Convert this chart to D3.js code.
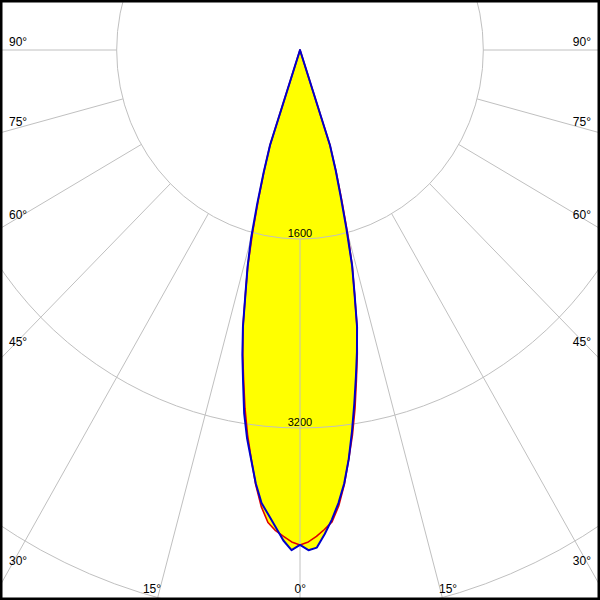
<!DOCTYPE html>
<html>
<head>
<meta charset="utf-8">
<script src="https://cdn.jsdelivr.net/npm/d3@7"></script>
<style>
  html, body { margin: 0; padding: 0; background: #fff; }
  svg { display: block; }
  text { font-family: "Liberation Sans", Arial, sans-serif; fill: #000; }
</style>
</head>
<body>
<div id="chart"></div>
<script>
// ---- data ----
const gammas   = [0,1,2,3,4,5,6,7,8,9,10,11,12,13,14,15,16,17,18,19,20,30,40,50,60,70,80,90];
const blueC0   = [4190,4235,4215,4105,3985,3850,3690,3490,3260,3030,2810,2605,2395,2115,1880,1565,1285,1065,845,0,0,0,0,0,0,0,0,0];
const blueC180 = [4190,4235,4155,4045,3945,3850,3690,3495,3320,3115,2860,2635,2395,2115,1890,1650,1355,1085,845,0,0,0,0,0,0,0,0,0];
const redC90   = [4190,4165,4120,4065,4005,3875,3700,3490,3290,3070,2835,2620,2395,2115,1885,1600,1320,1075,845,0,0,0,0,0,0,0,0,0];
const redC270  = [4190,4165,4120,4075,4010,3880,3700,3490,3290,3070,2835,2620,2395,2115,1885,1600,1320,1075,845,0,0,0,0,0,0,0,0,0];
const ringValues = [1600, 3200, 4800];
const ringLabels = ["1600", "3200"];
const spokeAngles = [-90,-75,-60,-45,-30,-15,0,15,30,45,60,75,90];
const spokeLabels = ["90°","75°","60°","45°","30°","15°","0°","15°","30°","45°","60°","75°","90°"];

// ---- layout ----
const W = 600, H = 600;
const cx = 300, cy = 50, xAspect = 0.97;
const rScale = d3.scaleLinear().domain([0, 1600]).range([0, 189]);
const rad = d => d * Math.PI / 180;
// signed angle: negative = left side
function pt(gDeg, I) {
  const a = rad(gDeg), r = rScale(I);
  return [cx + xAspect * r * Math.sin(a), cy + r * Math.cos(a)];
}

const svg = d3.select("#chart").append("svg").attr("width", W).attr("height", H);
svg.append("rect").attr("width", W).attr("height", H).attr("fill", "#fff");

function curvePoints(right, left) {
  const pts = [];
  gammas.forEach((g, i) => pts.push(pt(g, right[i])));
  for (let i = gammas.length - 1; i >= 0; i--) pts.push(pt(-gammas[i], left[i]));
  return pts;
}
const bluePts = curvePoints(blueC0, blueC180);
const redPts  = curvePoints(redC90, redC270);
const line = d3.line().curve(d3.curveLinearClosed);

// fill
svg.append("path").attr("d", line(redPts)).attr("fill", "#ffff00");
svg.append("path").attr("d", line(bluePts)).attr("fill", "#ffff00");

// ring labels (under grid)
svg.selectAll("text.ring").data(ringLabels).join("text")
  .attr("class", "ring")
  .attr("x", cx).attr("y", (d, i) => cy + rScale(ringValues[i]) - 2)
  .attr("text-anchor", "middle").attr("font-size", 11).text(d => d);

// grid
const grid = svg.append("g").attr("fill", "none").attr("stroke", "#c0c0c0").attr("stroke-width", 1);
grid.selectAll("ellipse").data(ringValues).join("ellipse")
  .attr("cx", cx).attr("cy", cy)
  .attr("rx", d => xAspect * rScale(d)).attr("ry", d => rScale(d));
grid.selectAll("line").data(spokeAngles).join("line")
  .attr("x1", d => pt(d, ringValues[0])[0]).attr("y1", d => pt(d, ringValues[0])[1])
  .attr("x2", d => pt(d, 12000)[0]).attr("y2", d => pt(d, 12000)[1]);

// curves
svg.append("path").attr("d", line(redPts)).attr("fill", "none")
  .attr("stroke", "#e00000").attr("stroke-width", 1.6).attr("stroke-linejoin", "round");
svg.append("path").attr("d", line(bluePts)).attr("fill", "none")
  .attr("stroke", "#0000cc").attr("stroke-width", 2).attr("stroke-linejoin", "round");

// angle labels
const labG = svg.append("g").attr("font-size", 12);
spokeAngles.forEach((g, i) => {
  const a = Math.abs(g);
  const t = labG.append("text").text(spokeLabels[i]);
  if (a >= 30) {
    const yc = cy + cx / Math.tan(rad(a)) - 8.5;
    t.attr("y", yc + 4.3);
    if (g < 0) t.attr("x", 9).attr("text-anchor", "start");
    else t.attr("x", W - 9).attr("text-anchor", "end");
  } else {
    const lx = cx + (g === 0 ? 0 : Math.sign(g)) * (H - 9 - cy) * Math.tan(rad(a));
    t.attr("y", 593);
    if (g <= 0) t.attr("x", lx + 6).attr("text-anchor", "end");
    else t.attr("x", lx - 6).attr("text-anchor", "start");
  }
});

// frame
svg.append("rect").attr("x", 1.25).attr("y", 1.25).attr("width", W - 2.5).attr("height", H - 2.5)
  .attr("fill", "none").attr("stroke", "#000").attr("stroke-width", 2.5);
</script>
</body>
</html>
